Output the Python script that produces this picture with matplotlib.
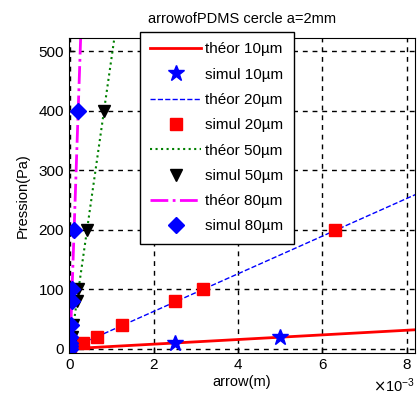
import numpy as np
import matplotlib.pyplot as plt
from matplotlib.ticker import ScalarFormatter

plt.rcParams['font.family'] = ['Liberation Sans', 'DejaVu Sans']

# théorie (droites)
theo10_x = [0.0, 0.0085]
theo10_p = [0.0, 33.0]
theo20_x = [0.0, 0.0085]
theo20_p = [0.0, 268.0]
theo50_x = [0.0, 0.0011]
theo50_p = [0.0, 545.0]
theo80_x = [0.0, 0.00027]
theo80_p = [0.0, 560.0]

# simulations
sim10_x = [0.0, 0.0025, 0.005]
sim10_p = [0.0, 10, 20]
sim20_x = [0.0, 0.0003, 0.00064, 0.00124, 0.0025, 0.00315, 0.0063]
sim20_p = [0.0, 10, 20, 40, 80, 100, 200]
sim50_x = [0.0, 0.00001, 0.00002, 0.00004, 0.00008, 0.00016, 0.0002, 0.0004, 0.00081]
sim50_p = [0.0, 5, 10, 20, 40, 80, 100, 200, 400]
sim80_x = [0.0, 0.000002, 0.000005, 0.00001, 0.00002, 0.00004, 0.00005, 0.0001, 0.00019]
sim80_p = [0.0, 5, 10, 20, 40, 80, 100, 200, 400]

fig = plt.figure(figsize=(4.17, 4.08), dpi=100)
ax = fig.add_axes([0.165, 0.135, 0.83, 0.772])

ax.plot(theo10_x, theo10_p, '-', color='red', lw=2, label='théor 10µm')
ax.plot(sim10_x, sim10_p, '*', color='blue', ms=12, ls='none', label='simul 10µm')
ax.plot(theo20_x, theo20_p, '--', color='blue', lw=1, label='théor 20µm')
ax.plot(sim20_x, sim20_p, 's', color='red', ms=9, ls='none', label='simul 20µm')
ax.plot(theo50_x, theo50_p, ':', color='green', lw=1.5, label='théor 50µm')
ax.plot(sim50_x, sim50_p, 'v', color='black', ms=9, ls='none', label='simul 50µm')
ax.plot(theo80_x, theo80_p, '-.', color='magenta', lw=2, label='théor 80µm')
ax.plot(sim80_x, sim80_p, 'D', color='blue', ms=8, ls='none', label='simul 80µm')

ax.set_xlim(-0.00003, 0.0082)
ax.set_ylim(-7, 522)
ax.set_xticks([0, 0.002, 0.004, 0.006, 0.008])
ax.set_yticks([0, 100, 200, 300, 400, 500])
fmt = ScalarFormatter(useMathText=True)
fmt.set_powerlimits((-3, -3))
ax.xaxis.set_major_formatter(fmt)
ax.xaxis.get_offset_text().set_fontsize(10.5)
ax.tick_params(labelsize=11, direction='in', length=4, width=1)
ax.grid(True, color='black', ls='--', lw=1, dashes=(3.5, 3.5))

ax.set_title('arrowofPDMS cercle a=2mm', fontsize=10.5, pad=11)
ax.set_xlabel('arrow(m)', fontsize=10.5, labelpad=2)
ax.set_ylabel('Pression(Pa)', fontsize=10.5, labelpad=6)

leg = ax.legend(loc='upper left', bbox_to_anchor=(0.205, 1.02), fontsize=11,
                handlelength=3.3, handletextpad=0.25, labelspacing=0.74,
                borderaxespad=0, fancybox=False, framealpha=1,
                edgecolor='black', borderpad=0.7)
leg.get_frame().set_linewidth(1)

fig.savefig('out.png', dpi=100)
